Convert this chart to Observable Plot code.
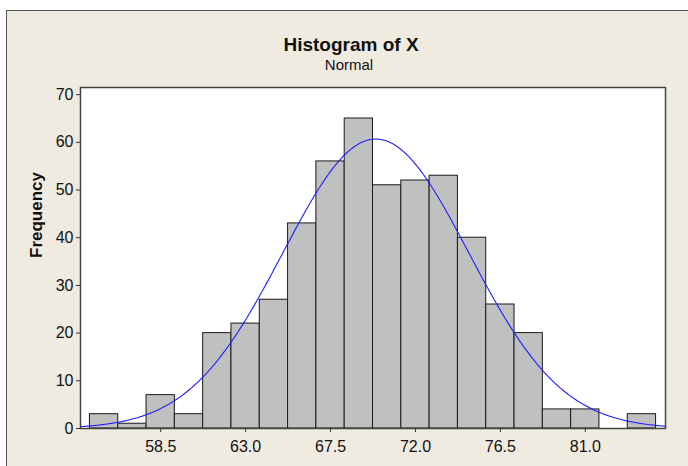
<!DOCTYPE html>
<html>
<head>
<meta charset="utf-8">
<script src="https://cdn.jsdelivr.net/npm/d3@7"></script>
<script src="https://cdn.jsdelivr.net/npm/@observablehq/plot@0.6"></script>
<style>
  html, body { margin: 0; padding: 0; background: #ffffff; }
  #wrap { position: relative; width: 688px; height: 466px; overflow: hidden; font-family: "Liberation Sans", Arial, sans-serif; }
  #frame { position: absolute; left: 6px; top: 10px; width: 690px; height: 470px; background: #EFEBE1; border-top: 1.5px solid #555; border-left: 1.5px solid #555; }
  #title { position: absolute; left: 0; width: 702px; top: 35px; text-align: center; font-size: 19px; line-height: 19px; font-weight: bold; color: #111; }
  #subtitle { position: absolute; left: 0; width: 698px; top: 57px; text-align: center; font-size: 15px; line-height: 15px; color: #111; }
  #chart { position: absolute; left: 0; top: 0; }
</style>
</head>
<body>
<div id="wrap">
  <div id="frame"></div>
  <div id="title">Histogram of X</div>
  <div id="subtitle">Normal</div>
  <div id="chart"></div>
</div>
<script>
// Histogram bins (centers) and frequencies
const binCenters = [55.5, 57.0, 58.5, 60.0, 61.5, 63.0, 64.5, 66.0, 67.5, 69.0, 70.5, 72.0, 73.5, 75.0, 76.5, 78.0, 79.5, 81.0, 82.5, 84.0];
const counts     = [3, 1, 7, 3, 20, 22, 27, 43, 56, 65, 51, 52, 53, 40, 26, 20, 4, 4, 0, 3];
const binWidth = 1.5;
const xTicks = [58.5, 63.0, 67.5, 72.0, 76.5, 81.0];
const yTicks = [0, 10, 20, 30, 40, 50, 60, 70];
// Fitted normal curve parameters
const fitMean = 69.9;
const fitSd = 4.93;
const sampleN = d3.sum(counts);

const xDomain = [54.25, 85.25];
const yDomain = [0, 71.5];

const bars = binCenters.map((c, i) => ({x1: c - binWidth / 2, x2: c + binWidth / 2, y: counts[i]}));
const curve = d3.range(xDomain[0], xDomain[1] + 0.001, 0.05).map(x => ({
  x,
  y: sampleN * binWidth / (fitSd * Math.sqrt(2 * Math.PI)) * Math.exp(-0.5 * ((x - fitMean) / fitSd) ** 2)
}));

const chart = Plot.plot({
  width: 688,
  height: 466,
  marginLeft: 80,
  marginRight: 23,
  marginTop: 87,
  marginBottom: 38,
  style: {background: "transparent", fontFamily: "'Liberation Sans', Arial, sans-serif", color: "#111", fontSize: "16px"},
  x: {domain: xDomain},
  y: {domain: yDomain},
  marks: [
    Plot.frame({fill: "white", stroke: "none"}),
    Plot.rectY(bars, {x1: "x1", x2: "x2", y: "y", fill: "#C0C0C0", stroke: "#1a1a1a", strokeWidth: 1}),
    Plot.line(curve, {x: "x", y: "y", stroke: "#1f1fff", strokeWidth: 1.1, clip: true}),
    Plot.frame({stroke: "#444", strokeWidth: 1.5}),
    Plot.axisY({ticks: yTicks, tickSize: 4, tickPadding: 3, fontSize: 16, label: null, stroke: "#333", fill: "#111"}),
    Plot.axisX({ticks: xTicks, tickSize: 4, tickPadding: 8, fontSize: 16, label: null, tickFormat: d => d.toFixed(1), stroke: "#333", fill: "#111"}),
    Plot.text(["Frequency"], {frameAnchor: "left", dx: -44, rotate: -90, fontSize: 17, fontWeight: "bold", fill: "#111"})
  ]
});
document.getElementById("chart").appendChild(chart);
</script>
</body>
</html>
